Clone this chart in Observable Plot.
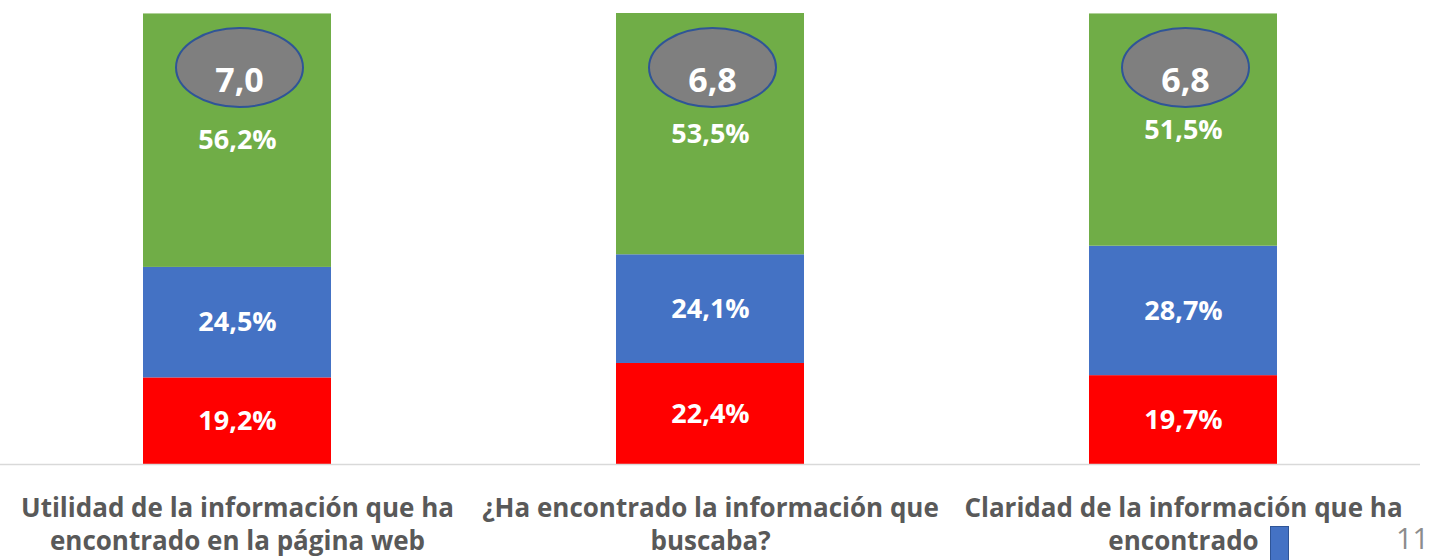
<!DOCTYPE html>
<html>
<head>
<meta charset="utf-8">
<script src="https://cdn.jsdelivr.net/npm/d3@7"></script>
<script src="https://cdn.jsdelivr.net/npm/@observablehq/plot@0.6"></script>
<style>
  html, body { margin: 0; padding: 0; background: #fff; }
  #wrap { position: relative; width: 1439px; height: 560px; overflow: hidden; font-family: "Open Sans", Lato, sans-serif; }
  #page { position: absolute; left: 1396px; top: 518px; font-size: 29px; color: #8c8c8c; }
  #marker { position: absolute; left: 1270px; top: 526px; width: 19px; height: 40px; background: #4472c4; border: 1.5px solid #2f5597; box-sizing: border-box; }
</style>
</head>
<body>
<div id="wrap"><div id="chart"></div><div id="marker"></div><div id="page">11</div></div>
<script>
// Data
const categories = [
  "Utilidad de la información que ha\nencontrado en la página web",
  "¿Ha encontrado la información que\nbuscaba?",
  "Claridad de la información que ha\nencontrado"
];
const seriesNames = ["Bajo", "Medio", "Alto"];
const redValues = [19.2, 22.4, 19.7];
const blueValues = [24.5, 24.1, 28.7];
const greenValues = [56.2, 53.5, 51.5];
const scores = [7.0, 6.8, 6.8];
const seriesColors = ["#ff0000", "#4472c4", "#70ad47"];

const rows = [];
categories.forEach((c, i) => {
  rows.push({cat: c, series: seriesNames[0], value: redValues[i]});
  rows.push({cat: c, series: seriesNames[1], value: blueValues[i]});
  rows.push({cat: c, series: seriesNames[2], value: greenValues[i]});
});
const scoreRows = categories.map((c, i) => ({cat: c, score: scores[i]}));

const fmtPct = v => v.toFixed(1).replace(".", ",") + "%";
const fmtScore = v => v.toFixed(1).replace(".", ",");

const ellipse = {
  draw(ctx) {
    const rx = 63.5, ry = 39.5, k = 0.5523;
    ctx.moveTo(rx, 0);
    ctx.bezierCurveTo(rx, ry * k, rx * k, ry, 0, ry);
    ctx.bezierCurveTo(-rx * k, ry, -rx, ry * k, -rx, 0);
    ctx.bezierCurveTo(-rx, -ry * k, -rx * k, -ry, 0, -ry);
    ctx.bezierCurveTo(rx * k, -ry, rx, -ry * k, rx, 0);
    ctx.closePath();
  }
};

const chart = Plot.plot({
  width: 1439,
  height: 560,
  marginTop: 13,
  marginBottom: 96,
  marginLeft: 0,
  marginRight: 19,
  style: {fontFamily: "'Open Sans', Lato, sans-serif", background: "#fff"},
  x: {domain: categories, paddingInner: 0.603, paddingOuter: 0.3015, axis: null},
  y: {domain: [0, 100], axis: null},
  color: {domain: seriesNames, range: seriesColors},
  marks: [
    Plot.barY(rows, {x: "cat", y: "value", fill: "series"}),
    Plot.ruleY([0], {stroke: "#d9d9d9", strokeWidth: 1.5}),
    Plot.text(rows, Plot.stackY({x: "cat", y: "value", z: "series", text: d => fmtPct(d.value), fill: "white", fontWeight: "bold", fontSize: 27})),
    Plot.dot(scoreRows, {x: "cat", frameAnchor: "top", dy: 54, dx: 2, symbol: ellipse, r: 10, fill: "#7f7f7f", stroke: "#2f5597", strokeWidth: 2}),
    Plot.text(scoreRows, {x: "cat", frameAnchor: "top", dy: 54, dx: 2, text: d => fmtScore(d.score), fill: "white", fontWeight: "bold", fontSize: 34}),
    Plot.text(categories, {x: d => d, frameAnchor: "bottom", dy: 29, lineAnchor: "top", text: d => d, fill: "#595959", fontWeight: "bold", fontSize: 26, lineHeight: 1.27})
  ]
});
document.getElementById("chart").appendChild(chart);
</script>
</body>
</html>
